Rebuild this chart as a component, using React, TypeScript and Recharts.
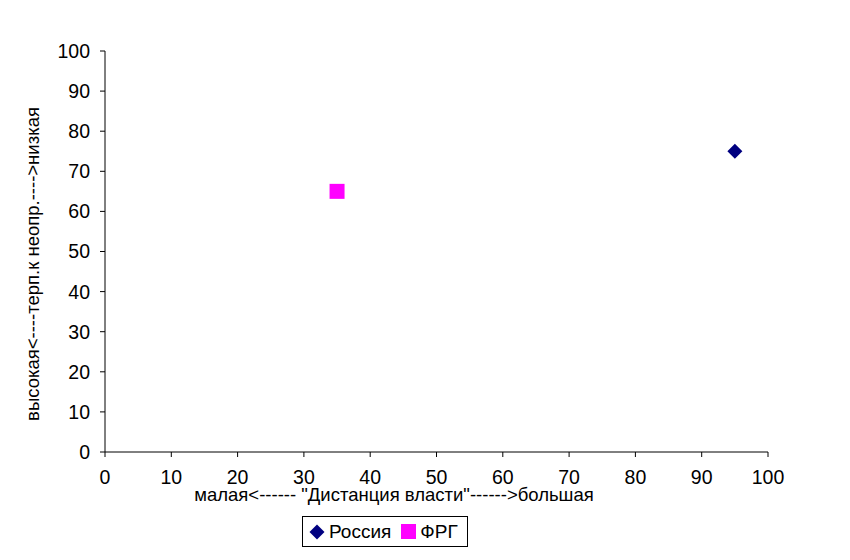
import { Scatter, ScatterChart, XAxis, YAxis } from "recharts";

const FONT = "'Liberation Sans', Arial, sans-serif";

export const russia = [{ x: 95, y: 75 }];
export const frg = [{ x: 35, y: 65 }];
export const ticks = [0, 10, 20, 30, 40, 50, 60, 70, 80, 90, 100];

const X_TITLE = 'малая<------ "Дистанция власти"------>большая';
const Y_TITLE = "высокая<----терп.к неопр.---->низкая";

function Diamond({ cx, cy, fill }: { cx?: number; cy?: number; fill?: string }) {
  if (cx == null || cy == null) return null;
  const r = 7.5;
  return <path d={`M${cx},${cy - r} L${cx + r},${cy} L${cx},${cy + r} L${cx - r},${cy} Z`} fill={fill} />;
}

function Square({ cx, cy, fill }: { cx?: number; cy?: number; fill?: string }) {
  if (cx == null || cy == null) return null;
  return <rect x={cx - 7.5} y={cy - 7.5} width={15} height={15} fill={fill} />;
}

function LegendBox() {
  return (
    <div style={{ position: "absolute", left: 302, top: 516, width: 166, height: 31, border: "1px solid #000",
      display: "flex", alignItems: "center", fontFamily: FONT, fontSize: 19, color: "#000",
      paddingLeft: 6, boxSizing: "border-box" }}>
      <svg width={16} height={16} style={{ marginRight: 4 }}>
        <path d="M8,0.5 L15.5,8 L8,15.5 L0.5,8 Z" fill="#000080" />
      </svg>
      <span style={{ marginRight: 10 }}>Россия</span>
      <svg width={15} height={15} style={{ marginRight: 4 }}>
        <rect width={15} height={15} fill="#FF00FF" />
      </svg>
      <span>ФРГ</span>
    </div>
  );
}

export default function App() {
  const tick = { fill: "#000", fontSize: 19.5, fontFamily: FONT };
  return (
    <div style={{ position: "absolute", left: 0, top: 0, width: 850, height: 560, background: "#fff" }}>
      <ScatterChart width={850} height={560} margin={{ top: 51, right: 82, bottom: 68, left: 0 }}>
        <XAxis type="number" dataKey="x" domain={[0, 100]} ticks={ticks} interval={0}
          axisLine={{ stroke: "#000" }} tickLine={{ stroke: "#000" }} tickSize={5} tickMargin={13}
          tick={tick} height={40} />
        <YAxis type="number" dataKey="y" domain={[0, 100]} ticks={ticks} interval={0}
          axisLine={{ stroke: "#000" }} tickLine={{ stroke: "#000" }} tickSize={5} tickMargin={10}
          tick={tick} width={105} />
        <Scatter name="Россия" data={russia} fill="#000080" shape={<Diamond />} isAnimationActive={false} />
        <Scatter name="ФРГ" data={frg} fill="#FF00FF" shape={<Square />} isAnimationActive={false} />
      </ScatterChart>
      <LegendBox />
      <div style={{ position: "absolute", left: 194, top: 486, width: 400, textAlign: "center", lineHeight: "18px",
        fontFamily: FONT, fontSize: 18.5, color: "#000", whiteSpace: "nowrap" }}>{X_TITLE}</div>
      <div style={{ position: "absolute", left: 33, top: 264, transform: "translate(-50%, -50%) rotate(-90deg)",
        fontFamily: FONT, fontSize: 18.5, color: "#000", whiteSpace: "nowrap" }}>{Y_TITLE}</div>
    </div>
  );
}
